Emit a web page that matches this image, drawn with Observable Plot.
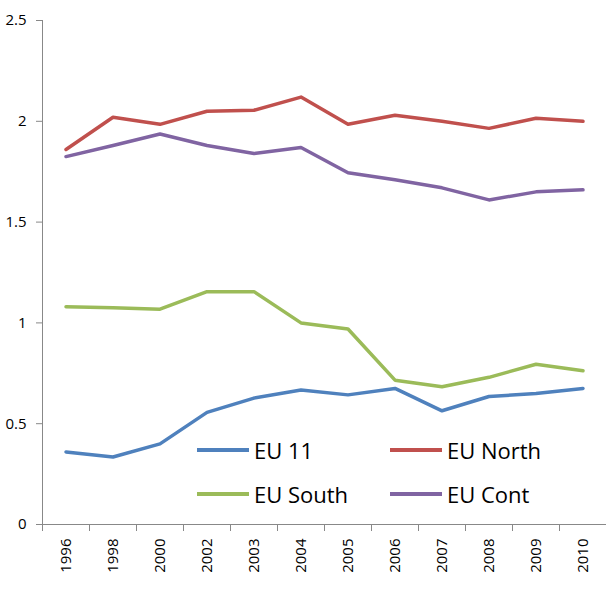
<!DOCTYPE html>
<html>
<head>
<meta charset="utf-8">
<script src="https://cdn.jsdelivr.net/npm/d3@7"></script>
<script src="https://cdn.jsdelivr.net/npm/@observablehq/plot@0.6"></script>
<style>
  body { margin: 0; background: #fff; }
  #chart { position: relative; width: 609px; height: 592px; font-family: "Open Sans", sans-serif; }
  .legend { position: absolute; font-size: 22px; color: #000; display: flex; align-items: center; }
  .legend span.sw { display: inline-block; width: 52px; height: 4px; margin-right: 5px; }
</style>
</head>
<body>
<div id="chart"></div>
<script>
const years = ["1996","1998","2000","2002","2003","2004","2005","2006","2007","2008","2009","2010"];
const series = ["EU 11", "EU North", "EU South", "EU Cont"];
const colors = ["#4f81bd", "#c0504d", "#9bbb59", "#8064a2"];
const eu11 = [0.36, 0.335, 0.40, 0.556, 0.627, 0.667, 0.643, 0.675, 0.564, 0.635, 0.65, 0.675];
const euNorth = [1.86, 2.02, 1.985, 2.05, 2.055, 2.12, 1.985, 2.03, 2.0, 1.965, 2.015, 2.0];
const euSouth = [1.08, 1.075, 1.068, 1.155, 1.155, 1.0, 0.97, 0.716, 0.683, 0.73, 0.795, 0.763];
const euCont = [1.825, 1.88, 1.937, 1.88, 1.84, 1.87, 1.745, 1.71, 1.67, 1.61, 1.65, 1.66];

const values = [eu11, euNorth, euSouth, euCont];
const data = series.flatMap((s, i) => years.map((y, j) => ({series: s, year: y, value: values[i][j]})));

const left = 42, right = 3, band = (609 - left - right) / years.length;

const chart = Plot.plot({
  width: 609,
  height: 592,
  marginTop: 20,
  marginBottom: 68,
  marginLeft: left,
  marginRight: right,
  style: {fontFamily: "Open Sans, sans-serif", fontSize: "15px", color: "#000"},
  x: {type: "band", domain: years, padding: 0, label: null},
  y: {domain: [0, 2.5], label: null},
  color: {domain: series, range: colors},
  marks: [
    Plot.axisY({ticks: [0, 0.5, 1, 1.5, 2, 2.5], tickFormat: d3.format("~"), tickSize: 6, stroke: "#888", tickPadding: 10, fontSize: 15, label: null}),
    Plot.ruleX([0], {x: () => years[0], dx: -band / 2, stroke: "#888"}),
    Plot.ruleY([0], {stroke: "#888"}),
    Plot.axisX({tickSize: 7, stroke: "#888", dx: -band / 2, tickFormat: null, label: null}),
    Plot.axisX({tickSize: 0, tickRotate: -90, tickPadding: 14, fontSize: 15, label: null, textAnchor: "end"}),
    Plot.line(data, {x: "year", y: "value", z: "series", stroke: "series", strokeWidth: 3.5})
  ]
});
document.getElementById("chart").append(chart);

// legend inside the plot area, Excel style
const pos = [[197, 435], [390, 435], [197, 479], [390, 479]];
series.forEach((s, i) => {
  const d = document.createElement("div");
  d.className = "legend";
  d.style.left = pos[i][0] + "px";
  d.style.top = pos[i][1] + "px";
  d.innerHTML = `<span class="sw" style="background:${colors[i]}"></span>${s}`;
  document.getElementById("chart").append(d);
});
</script>
</body>
</html>
